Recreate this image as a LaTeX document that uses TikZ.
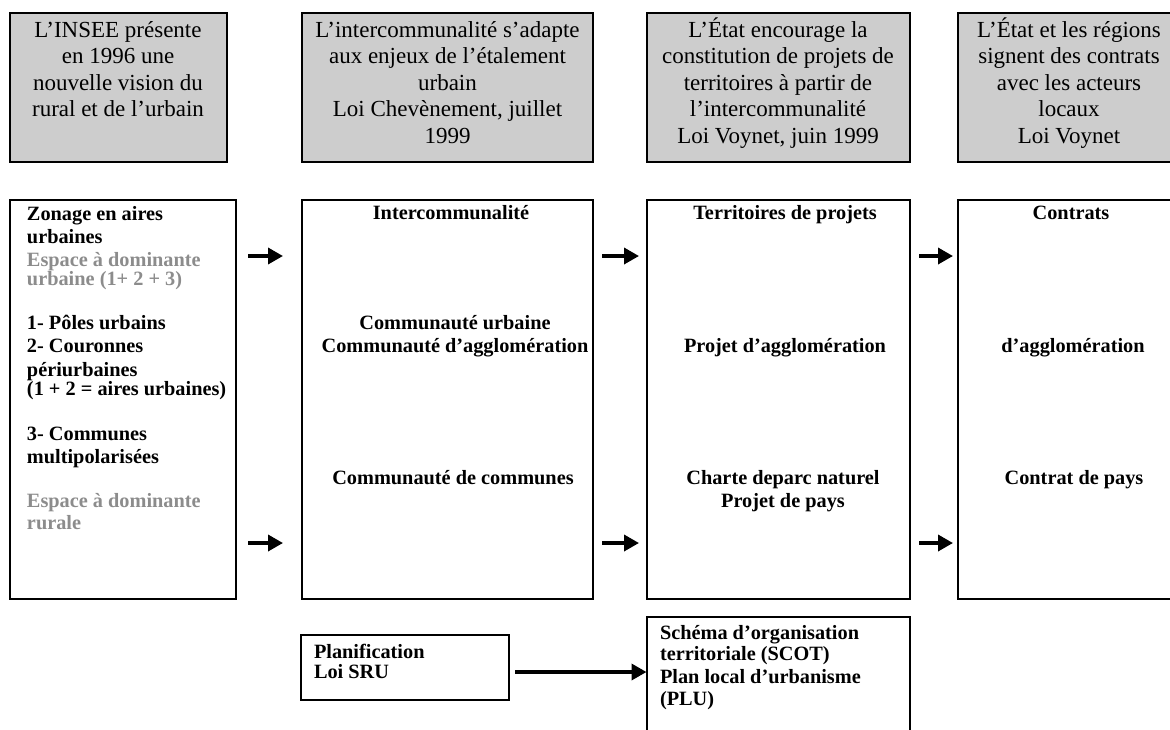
\documentclass[tikz,border=0pt]{standalone}
\usepackage{fontspec}
\setmainfont{Liberation Serif}
\usetikzlibrary{arrows.meta,calc}
\definecolor{boxgray}{HTML}{CDCDCD}
\definecolor{txtgray}{HTML}{8C8C8C}
% invisible struts fixing the height of the first line of a text block
\newcommand\grayfirst{\rule{0pt}{21pt}}
\newcommand\boldfirst{\rule{0pt}{19pt}}
\begin{document}
\begin{tikzpicture}[x=1pt,y=-1pt,
  every node/.style={inner sep=0pt,outer sep=0pt},
  framebox/.style={draw=black,line width=2pt,rectangle,anchor=north west},
  graybox/.style={framebox,fill=boxgray},
  headtext/.style={font=\fontsize{23}{26.5}\selectfont,align=center,anchor=north},
  boldtext/.style={font=\fontsize{20.3}{23}\selectfont\bfseries,anchor=north},
  centertext/.style={boldtext,align=center},
  lefttext/.style={boldtext,align=left,anchor=north west},
  arr/.style={line width=3.5pt,-{Triangle[length=15pt,width=16pt]}}
]
\useasboundingbox (0,0) rectangle (1170,729);
\clip (0,0) rectangle (1170,729);

% header boxes
\node[graybox,minimum width=217pt,minimum height=149pt] (g1) at (9.5,13) {};
\node[graybox,minimum width=291pt,minimum height=149pt] (g2) at (302,13) {};
\node[graybox,minimum width=263.5pt,minimum height=149pt] (g3) at (646.5,13) {};
\node[graybox,minimum width=225pt,minimum height=149pt] (g4) at (957.5,13) {};

\node[headtext] (g1t) at (118,16) {\grayfirst L'INSEE présente\\en 1996 une\\nouvelle vision du\\rural et de l'urbain};
\node[headtext] (g2t) at (447.5,16) {\grayfirst L'intercommunalité s'adapte\\aux enjeux de l'étalement\\urbain\\Loi Chevènement, juillet\\1999};
\node[headtext] (g3t) at (778,16) {\grayfirst L'État encourage la\\constitution de projets de\\territoires à partir de\\l'intercommunalité\\Loi Voynet, juin 1999};
\node[headtext] (g4t) at (1069,16) {\grayfirst L'État et les régions\\signent des contrats\\avec les acteurs\\locaux\\Loi Voynet};

% main boxes
\node[framebox,minimum width=226pt,minimum height=399pt] (b1) at (10,200) {};
\node[framebox,minimum width=291pt,minimum height=399pt] (b2) at (302,200) {};
\node[framebox,minimum width=263.5pt,minimum height=399pt] (b3) at (646.5,200) {};
\node[framebox,minimum width=230pt,minimum height=399pt] (b4) at (957.5,200) {};

\node[lefttext] (b1t) at (27,201) {\boldfirst Zonage en aires\\
urbaines\\
{\color{txtgray}Espace à dominante}\\[-4pt]
{\color{txtgray}urbaine (1+ 2 + 3)}\\[21pt]
1- Pôles urbains\\
2- Couronnes\\[1pt]
périurbaines\\[-4pt]
(1 + 2 = aires urbaines)\\[22pt]
3- Communes\\
multipolarisées\\[21pt]
{\color{txtgray}Espace à dominante}\\[-1pt]
{\color{txtgray}rurale}};

\node[centertext] (b2h) at (451,200) {\boldfirst Intercommunalité};
\node[centertext] (b2a) at (455,310) {\boldfirst Communauté urbaine\\Communauté d'agglomération};
\node[centertext] (b2b) at (453,465) {\boldfirst Communauté de communes};

\node[centertext] (b3h) at (785,200) {\boldfirst Territoires de projets};
\node[centertext] (b3a) at (785,333) {\boldfirst Projet d'agglomération};
\node[centertext] (b3b) at (783,465) {\boldfirst Charte deparc naturel\\Projet de pays};

\node[centertext] (b4h) at (1071,200) {\boldfirst Contrats};
\node[centertext] (b4a) at (1073,333) {\boldfirst d'agglomération};
\node[centertext] (b4b) at (1074,465) {\boldfirst Contrat de pays};

% planning boxes
\node[framebox,minimum width=208pt,minimum height=65pt] (plan) at (301,635) {};
\node[framebox,minimum width=263.5pt,minimum height=150pt] (scot) at (646.5,617) {};
\node[lefttext] (plant) at (314,639) {\boldfirst Planification\\[-3pt]Loi SRU};
\node[lefttext] (scott) at (660,620) {\boldfirst Schéma d'organisation\\[-2pt]
territoriale (SCOT)\\
Plan local d'urbanisme\\[-1pt]
(PLU)};

% arrows
\draw[arr] ($(b1.north east)+(12,56)$) -- ($(b2.north west)+(-19,56)$);
\draw[arr] ($(b1.north east)+(12,343)$) -- ($(b2.north west)+(-19,343)$);
\draw[arr] ($(b2.north east)+(9,56)$) -- ($(b3.north west)+(-7.5,56)$);
\draw[arr] ($(b2.north east)+(9,343)$) -- ($(b3.north west)+(-7.5,343)$);
\draw[arr] ($(b3.north east)+(9,56)$) -- ($(b4.north west)+(-4.5,56)$);
\draw[arr] ($(b3.north east)+(9,343)$) -- ($(b4.north west)+(-4.5,343)$);
\draw[arr] ($(plan.north east)+(6,37)$) -- ($(scot.north west)+(0,55)$);
\end{tikzpicture}
\end{document}
